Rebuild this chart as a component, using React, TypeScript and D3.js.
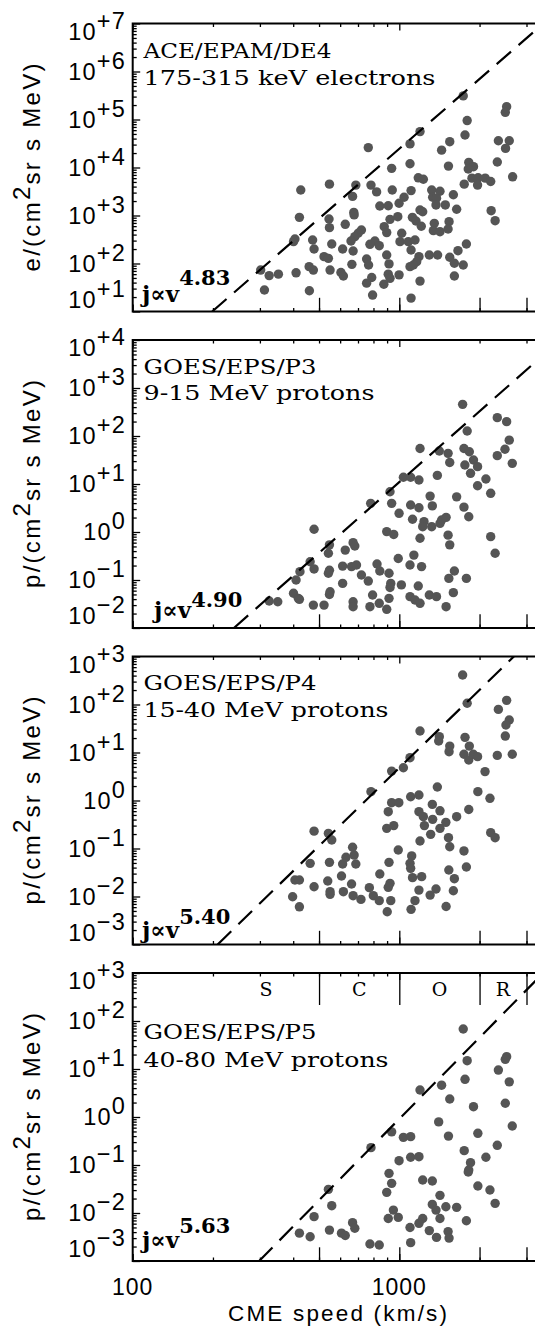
import React, { useRef, useEffect } from 'react'
import * as d3 from 'd3'

// ACE/EPAM/DE4 175-315 keV electrons: CME speed (km/s) and peak intensity
const de4Speed = [
  1737, 2527, 2498, 1797, 1196, 1764, 1546, 1441, 765, 1097, 2353, 2585, 2503, 1097, 936, 1529,
  1822, 1898, 1814, 2331, 2661, 1178, 1231, 1873, 1975, 2100, 2202, 1966, 1752, 547, 687, 427,
  783, 822, 941, 1107, 1323, 1421, 1334, 1379, 1595, 668, 845, 909, 998, 1042, 1196, 1224,
  1373, 1488, 1641, 2211, 2288, 422, 545, 547, 675, 677, 627, 923, 987, 878, 897, 1120,
  1155, 1209, 1353, 1537, 1342, 1421, 1524, 721, 701, 681, 659, 401, 406, 473, 479, 558,
  810, 776, 841, 1021, 1006, 1081, 1145, 1107, 613, 671, 1785, 1660, 522, 542, 754, 767,
  897, 915, 1185, 1162, 1296, 1392, 1546, 1609, 1737, 664, 1097, 1129, 302, 325, 352, 410,
  459, 476, 550, 604, 617, 909, 923, 998, 788, 754, 875, 1196, 1609, 312, 460, 794, 1107,
]
const de4Flux = [
  3.1e5, 1.85e5, 1.41e5, 9.5e4, 5.6e4, 4.75e4, 3.45e4, 2.3e4, 2.6e4, 3.1e4, 3.6e4, 3.6e4, 2.5e4, 1.2e4, 9.6e3, 1.07e4,
  1.28e4, 1.04e4, 9.3e3, 1.3e4, 6.4e3, 6.1e3, 5.7e3, 6.0e3, 6.1e3, 6.0e3, 5.1e3, 4.3e3, 4.5e3, 4.5e3, 4.3e3, 3.4e3,
  4.3e3, 3.1e3, 3.4e3, 3.3e3, 3.4e3, 3.2e3, 2.4e3, 2.3e3, 2.7e3, 2.5e3, 1.58e3, 1.6e3, 1.8e3, 2.4e3, 1.3e3, 1.2e3,
  1.66e3, 1.66e3, 1.35e3, 1.26e3, 780, 916, 845, 558, 1.16e3, 1.03e3, 655, 832, 945, 586, 440, 916,
  769, 596, 687, 745, 483, 460, 524, 499, 426, 362, 294, 285, 324, 309, 200, 255,
  294, 251, 235, 426, 285, 285, 309, 191, 200, 182, 255, 185, 139, 128, 124, 93,
  150, 98, 139, 109, 150, 150, 135, 101, 93, 96, 86, 93, 73, 56, 60, 64,
  86, 73, 73, 65, 55, 60, 49, 58, 51, 39, 37, 43, 55, 28, 27, 22, 19,
]

// GOES/EPS/P3 9-15 MeV protons
const p3Speed = [
  1728, 2331, 2527, 1797, 1196, 1413, 1524, 1748, 1831, 2585, 2491, 2331, 1546, 1762, 1898, 1966,
  1850, 2653, 1036, 1103, 1185, 1389, 2113, 1966, 2202, 923, 936, 781, 1305, 1330, 1641, 1748,
  1822, 1103, 1185, 998, 1121, 1238, 1224, 1323, 1421, 1441, 1498, 479, 897, 953, 1196, 1524,
  1546, 2202, 547, 542, 671, 681, 627, 2288, 991, 1134, 1097, 1212, 463, 479, 424, 410,
  547, 542, 613, 662, 691, 825, 845, 915, 721, 765, 1609, 1534, 1785, 613, 929, 923,
  1018, 1178, 550, 547, 401, 418, 422, 325, 350, 476, 522, 671, 671, 794, 776, 841,
  915, 897, 1097, 1145, 1196, 1296, 1379, 1595, 1498,
]
const p3Flux = [
  456, 241, 199, 127, 55, 48.6, 43.5, 55, 47, 82, 53, 39, 28, 24.9, 31.6, 23,
  16.7, 26.9, 13.8, 13.8, 12.1, 15.1, 12.7, 9.2, 6.4, 6.9, 3.95, 3.95, 5.6, 3.5, 5.4, 3.3,
  2.08, 3.65, 3.2, 2.45, 1.84, 1.64, 1.29, 1.29, 1.51, 1.78, 2.02, 1.14, 1.02, 0.89, 0.74, 0.86,
  0.54, 0.8, 0.54, 0.36, 0.6, 0.51, 0.42, 0.36, 0.28, 0.33, 0.205, 0.19, 0.24, 0.17, 0.149, 0.1,
  0.16, 0.138, 0.195, 0.19, 0.205, 0.215, 0.154, 0.138, 0.127, 0.095, 0.154, 0.108, 0.108, 0.085, 0.085, 0.07,
  0.079, 0.075, 0.057, 0.05, 0.053, 0.0415, 0.0395, 0.0365, 0.0353, 0.03, 0.03, 0.0353, 0.0278, 0.0486, 0.0278, 0.0327,
  0.0415, 0.0245, 0.045, 0.0383, 0.0327, 0.0486, 0.045, 0.0545, 0.0278,
]

// GOES/EPS/P4 15-40 MeV protons
const p4Speed = [
  1728, 1797, 2527, 2353, 1196, 1413, 1405, 1764, 1546, 1537, 2585, 2512, 2498, 1831, 1748, 1822,
  1895, 1966, 2331, 2653, 1097, 1036, 936, 2097, 783, 1389, 1971, 2188, 1103, 1185, 936, 996,
  909, 1330, 1421, 1185, 1231, 1334, 1641, 1822, 897, 953, 1242, 1495, 1421, 1311, 479, 542,
  558, 2202, 2288, 1196, 1529, 1546, 668, 677, 631, 991, 1748, 463, 547, 613, 687, 915,
  1113, 1097, 1103, 1534, 1785, 845, 607, 1213, 1121, 1609, 406, 422, 539, 479, 662, 923,
  909, 772, 550, 550, 617, 1185, 1373, 1305, 1595, 398, 671, 718, 799, 841, 929, 1145,
  422, 1498, 901, 1107,
]
const p4Flux = [
  412, 106, 122, 79, 28, 21.4, 17.4, 20.7, 13.6, 10.4, 47.5, 37.4, 22, 13.6, 9.2, 7.0,
  9.2, 8.2, 8.7, 9.2, 7.8, 4.8, 4.1, 4.0, 1.53, 1.91, 1.53, 1.11, 1.2, 1.3, 0.9, 0.9,
  0.585, 0.83, 0.61, 0.585, 0.46, 0.405, 0.46, 0.65, 0.263, 0.3, 0.3, 0.351, 0.263, 0.197, 0.23, 0.207,
  0.15, 0.214, 0.168, 0.143, 0.168, 0.109, 0.106, 0.073, 0.0655, 0.093, 0.089, 0.049, 0.0515, 0.0475, 0.0475, 0.0515,
  0.07, 0.049, 0.0386, 0.0356, 0.0412, 0.0294, 0.0267, 0.0259, 0.0247, 0.0235, 0.0221, 0.0221, 0.021, 0.016, 0.0182, 0.0188,
  0.0155, 0.0153, 0.0126, 0.0111, 0.0126, 0.0136, 0.0143, 0.0107, 0.0132, 0.0099, 0.0104, 0.0087, 0.0104, 0.0082, 0.0082, 0.0082,
  0.0061, 0.0062, 0.0048, 0.0054,
]

// GOES/EPS/P5 40-80 MeV protons
const p5Speed = [
  1737, 1797, 2527, 2498, 2353, 2585, 1764, 1196, 1441, 1546, 1898, 2498, 1405, 2653, 936, 1036,
  1103, 1529, 1971, 783, 2331, 1752, 1103, 1185, 998, 2113, 1850, 1822, 1814, 915, 936, 897,
  1224, 1330, 1971, 2188, 542, 1421, 558, 1330, 1373, 1495, 1641, 2288, 950, 909, 991, 1421,
  479, 1785, 1224, 1185, 668, 681, 1097, 547, 422, 463, 607, 627, 1296, 1379, 1524, 1537,
  776, 841, 1103,
]
const p5Flux = [
  68, 14.9, 18.1, 15.9, 9.5, 5.4, 6.1, 3.65, 4.6, 2.37, 1.64, 1.93, 0.79, 0.65, 0.49, 0.377,
  0.39, 0.4, 0.457, 0.23, 0.257, 0.199, 0.145, 0.149, 0.123, 0.145, 0.112, 0.0787, 0.0714, 0.067, 0.0415, 0.0269,
  0.0486, 0.0464, 0.0365, 0.0301, 0.0311, 0.0233, 0.0142, 0.0151, 0.0115, 0.0135, 0.0131, 0.0159, 0.0115, 0.0077, 0.0081, 0.0077,
  0.0084, 0.0069, 0.0077, 0.0061, 0.0063, 0.0048, 0.005, 0.0044, 0.0038, 0.0032, 0.0038, 0.0034, 0.0043, 0.0031, 0.0041, 0.003,
  0.00226, 0.00215, 0.00241,
]

const instruments = ['ACE/EPAM/DE4', 'GOES/EPS/P3', 'GOES/EPS/P4', 'GOES/EPS/P5']
const channels = ['175-315 keV electrons', '9-15 MeV protons', '15-40 MeV protons', '40-80 MeV protons']
const particles = ['e', 'p', 'p', 'p']
const fluxDecades = [[1, 7], [-2, 4], [-3, 3], [-3, 3]]
const fitIndex = [4.83, 4.9, 5.4, 5.63]
const fitLogIntercept = [-10.1, -13.66, -15.52, -16.93]
const classEdges = [200, 500, 1000, 2000, 3000]
const classNames = ['S', 'C', 'O', 'R']
const speedTickLabels = [100, 1000]
const speedDomain = [100, 4000]

const SANS = "'Liberation Sans', Arial, Helvetica, sans-serif"
const SERIF = "'DejaVu Serif', 'Liberation Serif', serif"

export default function App() {
  const ref = useRef<SVGSVGElement>(null)

  useEffect(() => {
    const svg = d3.select(ref.current)
    svg.selectAll('*').remove()

    const W = 535
    const left = 132.7
    const decade = 266.6
    const panelH = 288
    const panelStep = 316.5
    const firstTop = 23.5

    // per-panel text placement
    const instrLen = [188, 173, 173, 173]
    const chanLen = [292, 231, 245, 245]
    const instrDy = [34, 33.5, 33.5, 66]
    const chanDy = [61.5, 60, 60, 94]
    const fitX = [142, 154, 142, 142]
    const fitBase = [10, 10, 7, 13]
    const fitSup = [27, 21, 21, 28]

    const speeds = [de4Speed, p3Speed, p4Speed, p5Speed]
    const fluxes = [de4Flux, p3Flux, p4Flux, p5Flux]

    const x = d3
      .scaleLog()
      .domain(speedDomain)
      .range([left, left + decade * Math.log10(speedDomain[1] / speedDomain[0])])

    const minorX: number[] = []
    for (let k = 2; k <= 3; k++) {
      for (let m = 2; m <= 9; m++) {
        const v = m * 10 ** k
        if (v < speedDomain[1]) minorX.push(v)
      }
    }

    const cleanAxis = (sel) => {
      sel.select('.domain').remove()
      sel.selectAll('text').remove()
      sel.selectAll('line').attr('stroke', '#000').attr('stroke-width', 1.3)
    }

    speeds.forEach((sp, i) => {
      const top = firstTop + i * panelStep
      const bottom = top + panelH
      const [d0, d1] = fluxDecades[i]
      const y = d3.scaleLog().domain([10 ** d0, 10 ** d1]).range([bottom, top])
      const g = svg.append('g')

      const clipId = `panel-clip-${i}`
      svg
        .append('clipPath')
        .attr('id', clipId)
        .append('rect')
        .attr('x', left)
        .attr('y', top)
        .attr('width', W - left)
        .attr('height', panelH)

      // events
      g.selectAll('circle')
        .data(d3.zip(sp, fluxes[i]))
        .join('circle')
        .attr('cx', (d) => x(d[0]))
        .attr('cy', (d) => y(d[1]))
        .attr('r', 4.7)
        .attr('fill', '#555555')

      // power-law fit j ~ v^n
      const vStart = 10 ** ((d0 - fitLogIntercept[i]) / fitIndex[i])
      const fit = d3
        .line<number>()
        .x((v) => x(v))
        .y((v) => y(10 ** (fitLogIntercept[i] + fitIndex[i] * Math.log10(v))))
      g.append('path')
        .datum([vStart, speedDomain[1]])
        .attr('d', fit)
        .attr('clip-path', `url(#${clipId})`)
        .attr('fill', 'none')
        .attr('stroke', '#000')
        .attr('stroke-width', 2.2)
        .attr('stroke-dasharray', '19,10')

      // x ticks, bottom and top
      g.append('g')
        .attr('transform', `translate(0,${bottom})`)
        .call(d3.axisTop(x).tickValues(minorX).tickSize(3.5))
        .call(cleanAxis)
      g.append('g')
        .attr('transform', `translate(0,${bottom})`)
        .call(d3.axisTop(x).tickValues(speedTickLabels).tickSize(7))
        .call(cleanAxis)
      g.append('g')
        .attr('transform', `translate(0,${bottom})`)
        .call(d3.axisTop(x).tickValues(classEdges.slice(1)).tickSize(13.7))
        .call(cleanAxis)
      g.append('g')
        .attr('transform', `translate(0,${top})`)
        .call(d3.axisBottom(x).tickValues(minorX).tickSize(3.5))
        .call(cleanAxis)
      g.append('g')
        .attr('transform', `translate(0,${top})`)
        .call(d3.axisBottom(x).tickValues(speedTickLabels).tickSize(7))
        .call(cleanAxis)

      // y ticks
      const majorY = d3.range(d0, d1 + 1).map((e) => 10 ** e)
      const minorY: number[] = []
      d3.range(d0, d1).forEach((e) => {
        for (let m = 2; m <= 9; m++) minorY.push(m * 10 ** e)
      })
      g.append('g')
        .attr('transform', `translate(${left},0)`)
        .call(d3.axisRight(y).tickValues(minorY).tickSize(4))
        .call(cleanAxis)
      g.append('g')
        .attr('transform', `translate(${left},0)`)
        .call(d3.axisRight(y).tickValues(majorY).tickSize(7.5))
        .call(cleanAxis)

      // frame (right side runs off the page)
      g.append('path')
        .attr('d', `M${W + 5},${top}H${left}V${bottom}H${W + 5}`)
        .attr('fill', 'none')
        .attr('stroke', '#000')
        .attr('stroke-width', 2)

      // y tick labels 10^n
      d3.range(d0, d1 + 1).forEach((e) => {
        const off = e === d1 ? 16 : e === d0 ? -4 : 8
        const t = g
          .append('text')
          .attr('x', 126)
          .attr('y', y(10 ** e) + off)
          .attr('text-anchor', 'end')
          .attr('font-family', SANS)
          .attr('font-size', 23.5)
          .attr('letter-spacing', 1.2)
        t.append('tspan').text('10')
        t.append('tspan')
          .attr('dy', -10.7)
          .text(e > 0 ? `+${e}` : e === 0 ? '0' : `\u2212${-e}`)
      })

      // y title
      const yt = g
        .append('text')
        .attr('transform', `translate(40,${(top + bottom) / 2}) rotate(-90)`)
        .attr('text-anchor', 'middle')
        .attr('font-family', SANS)
        .attr('font-size', 24)
        .attr('textLength', 208)
        .attr('lengthAdjust', 'spacing')
      yt.append('tspan').text(`${particles[i]}/(cm`)
      yt.append('tspan').attr('dy', -10).text('2')
      yt.append('tspan').attr('dy', 10).text('sr s MeV)')

      // instrument labels
      g.append('text')
        .attr('x', 143.5)
        .attr('y', top + instrDy[i])
        .attr('font-family', SERIF)
        .attr('font-size', 21)
        .attr('textLength', instrLen[i])
        .attr('lengthAdjust', 'spacingAndGlyphs')
        .text(instruments[i])
      g.append('text')
        .attr('x', 143.5)
        .attr('y', top + chanDy[i])
        .attr('font-family', SERIF)
        .attr('font-size', 21)
        .attr('textLength', chanLen[i])
        .attr('lengthAdjust', 'spacingAndGlyphs')
        .text(channels[i])

      // fit label
      const ft = g
        .append('text')
        .attr('x', fitX[i])
        .attr('y', bottom - fitBase[i])
        .attr('font-family', SERIF)
        .attr('font-weight', 'bold')
        .attr('font-size', 23)
      ft.append('tspan').text('j\u221Dv')
      ft.append('tspan')
        .attr('dy', -(fitSup[i] - fitBase[i]))
        .attr('font-size', 21)
        .text(fitIndex[i].toFixed(2))

      // speed classes on the last panel
      if (i === speeds.length - 1) {
        g.append('g')
          .attr('transform', `translate(0,${top})`)
          .call(d3.axisBottom(x).tickValues(classEdges.slice(1)).tickSize(32))
          .call(cleanAxis)
        classNames.forEach((c, k) => {
          g.append('text')
            .attr('x', x(Math.sqrt(classEdges[k] * classEdges[k + 1])))
            .attr('y', top + 23)
            .attr('text-anchor', 'middle')
            .attr('font-family', SERIF)
            .attr('font-size', 19)
            .text(c)
        })

        speedTickLabels.forEach((v) => {
          g.append('text')
            .attr('x', x(v))
            .attr('y', bottom + 34)
            .attr('text-anchor', 'middle')
            .attr('font-family', SANS)
            .attr('font-size', 23)
            .attr('letter-spacing', 1)
            .text(String(v))
        })
        g.append('text')
          .attr('x', 337.5)
          .attr('y', bottom + 60)
          .attr('text-anchor', 'middle')
          .attr('font-family', SANS)
          .attr('font-size', 22.5)
          .attr('textLength', 219)
          .attr('lengthAdjust', 'spacing')
          .text('CME speed (km/s)')
      }
    })
  }, [])

  return (
    <svg
      ref={ref}
      width={535}
      height={1328}
      style={{ position: 'absolute', left: 0, top: 0, background: '#fff' }}
    />
  )
}
